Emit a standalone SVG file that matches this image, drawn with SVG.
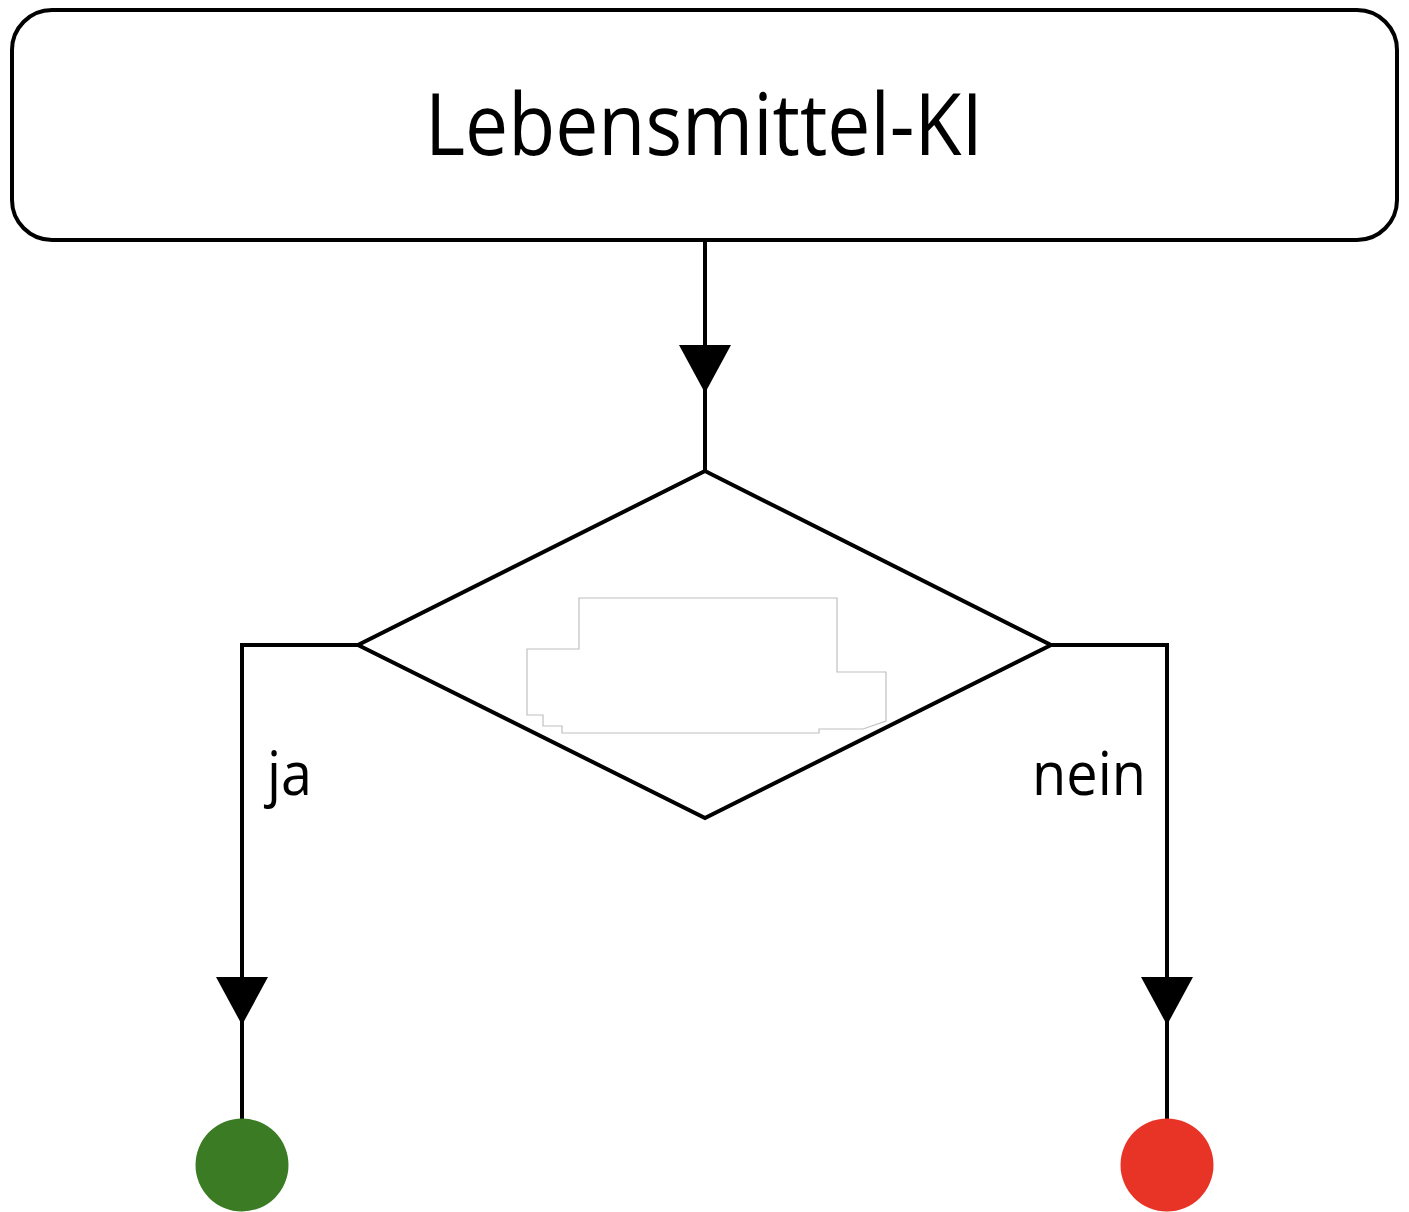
<svg xmlns="http://www.w3.org/2000/svg" width="1409" height="1212" viewBox="0 0 1409 1212">
<style>
.ln{fill:none;stroke:#000;stroke-width:4;stroke-linejoin:miter}
.shape{fill:#fff;stroke:#000;stroke-width:4}
.txt{font-family:"Open Sans","Noto Sans","DejaVu Sans",sans-serif;fill:#000}
</style>
<defs>
<marker id="arr" markerUnits="userSpaceOnUse" viewBox="0 0 48 52" refX="48" refY="26" markerWidth="48" markerHeight="52" orient="auto">
<path d="M0,0 L48,26 L0,52 Z" fill="#000"/>
</marker>
</defs>
<rect width="1409" height="1212" fill="#fff"/>
<g id="connectors">
<path class="ln" d="M705,241 L705,393" marker-end="url(#arr)"/>
<path class="ln" d="M705,393 L705,471"/>
<path class="ln" d="M358,645 L242,645 L242,1025" marker-end="url(#arr)"/>
<path class="ln" d="M242,1025 L242,1120"/>
<path class="ln" d="M1051,645 L1167,645 L1167,1025" marker-end="url(#arr)"/>
<path class="ln" d="M1167,1025 L1167,1120"/>
</g>
<g id="node-start">
<rect class="shape" x="12" y="10" width="1385" height="230" rx="40" ry="40"/>
<text class="txt" x="425" y="155" font-size="86" textLength="558" lengthAdjust="spacingAndGlyphs">Lebensmittel-KI</text>
</g>
<g id="node-decision">
<polygon class="shape" points="705,471 1051,645 705,818 358,645"/>
<polygon points="579,598 837,598 837,672 886,672 886,721 863,729 819,729 819,733 562,733 562,726 543,726 543,715 527,715 527,649 579,649" fill="#fff" stroke="#c0c0c0" stroke-width="1.2"/>
</g>
<g id="label-ja">
<text class="txt" x="267" y="795" font-size="60" textLength="45" lengthAdjust="spacingAndGlyphs">ja</text>
</g>
<g id="label-nein">
<text class="txt" x="1032" y="795" font-size="60" textLength="114" lengthAdjust="spacingAndGlyphs">nein</text>
</g>
<g id="node-yes">
<circle cx="242" cy="1165" r="46.5" fill="#3a7b23"/>
</g>
<g id="node-no">
<circle cx="1167" cy="1165" r="46.5" fill="#e83426"/>
</g>
</svg>
